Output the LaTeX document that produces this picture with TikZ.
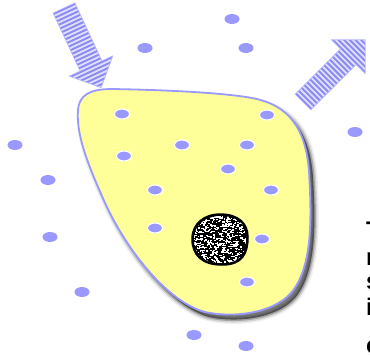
\documentclass[tikz,border=0pt]{standalone}
\usepackage{fontspec}
\setmainfont{Liberation Sans}
\begin{document}
\definecolor{dotblue}{HTML}{9999FF}
\definecolor{stripeblue}{HTML}{8C8CF2}
\definecolor{palestripe}{HTML}{E2E2FF}
\definecolor{cellyellow}{HTML}{FFFF99}
\tikzset{
  particle/.style={fill=dotblue, draw=none},
  inparticle/.style={fill=dotblue, draw=white, line width=1.1pt},
  membrane/.style={draw=dotblue, line width=1.8pt, fill=cellyellow},
  sidetext/.style={anchor=base west, inner sep=0pt, font=\fontsize{24}{24}\selectfont\bfseries}
}
% outline of the cell
\def\cellpath{(78,110) .. controls (79,95) and (90,89) .. (112,89)
  .. controls (170,90) and (225,93) .. (252,98)
  .. controls (290,105) and (306,130) .. (309,172)
  .. controls (312,222) and (312,268) .. (291,293)
  .. controls (272,314) and (232,318) .. (205,312)
  .. controls (168,302) and (128,252) .. (106,205)
  .. controls (88,165) and (76,135) .. (78,110) -- cycle}
% striped block arrow pointing along +x (local frame)
\newcommand{\stripedarrow}[2]{% #1 = shaft half width, #2 = scope options
  \begin{scope}[#2]
    \path[fill=palestripe] (0,-#1) -- (64,-#1) -- (64,-24) -- (88,0) -- (64,24) -- (64,#1) -- (0,#1) -- cycle;
    \begin{scope}
      \clip (0,-#1) -- (64,-#1) -- (64,-24) -- (88,0) -- (64,24) -- (64,#1) -- (0,#1) -- cycle;
      \foreach \s in {1,5,...,89} {
        \draw[stripeblue, line width=2pt] (\s,-26) -- (\s,26);
      }
    \end{scope}
    \draw[dotblue!70, line width=0.7pt, line join=round] (0,-#1) -- (64,-#1) -- (64,-24) -- (88,0) -- (64,24) -- (64,#1) -- (0,#1) -- cycle;
  \end{scope}}
\begin{tikzpicture}[x=1pt, y=-1pt]
  \useasboundingbox (0,0) rectangle (370,354);
  \clip (0,0) rectangle (370,354);
  \fill[white] (0,0) rectangle (370,354);

  % incoming and outgoing arrows
  \stripedarrow{12}{shift={(64,8)}, rotate=-65}
  \stripedarrow{11}{shift={(303,102)}, rotate=45}

  % particles outside the cell
  \foreach \n/\px/\py in {o1/232/19, o2/145/48, o3/246/48, o4/15/145, o5/48/180,
      o6/355/132, o7/50/237, o8/82/292, o9/194/335, o10/246/346} {
    \path[particle] (\px,\py) coordinate (\n) ellipse [x radius=7.5pt, y radius=5pt];
  }

  % soft drop shadow of the cell
  \begin{scope}[shift={(4,5)}]
    \draw[black, opacity=0.06, line width=9pt] \cellpath;
    \draw[black, opacity=0.12, line width=6pt] \cellpath;
    \draw[black, opacity=0.22, line width=3pt] \cellpath;
    \fill[black, opacity=0.5] \cellpath;
  \end{scope}

  % the cell
  \path[membrane] \cellpath;

  % particles inside the cell
  \foreach \n/\px/\py in {i1/122/114, i2/267/115, i3/182/145, i4/247/145, i5/124/156,
      i6/228/169, i7/155/190, i8/271/190, i9/155/228, i10/262/239, i11/247/282} {
    \path[inparticle] (\px,\py) coordinate (\n) ellipse [x radius=7.5pt, y radius=5pt];
  }

  % nucleus with speckled texture
  \def\nucpath{(192,239) .. controls (192,223) and (205,214) .. (220,214)
    .. controls (238,214) and (248,223) .. (248,237)
    .. controls (248,253) and (243,265) .. (222,265)
    .. controls (202,265) and (192,255) .. (192,239) -- cycle}
  \fill[black] \nucpath;
  \begin{scope}
    \clip (194,239) .. controls (194,225) and (206,216) .. (220,216)
      .. controls (237,216) and (246,224) .. (246,237)
      .. controls (246,252) and (242,263) .. (222,263)
      .. controls (203,263) and (194,254) .. (194,239) -- cycle;
    \pgfmathsetseed{4242}
    \foreach \k in {1,...,650} {
      \pgfmathsetmacro{\rx}{192+56*rnd}
      \pgfmathsetmacro{\ry}{214+51*rnd}
      \pgfmathsetmacro{\rw}{0.8+2*rnd}
      \fill[white] (\rx,\ry) rectangle ++(\rw,1.2);
    }
  \end{scope}
  \draw[black, line width=1.5pt] \nucpath;

  % text running off the right edge
  \node[sidetext] (t1) at (366,238) {T};
  \node[sidetext] (t2) at (366,265) {n};
  \node[sidetext] (t3) at (366,289) {s};
  \node[sidetext] (t4) at (366,315) {i};
  \node[sidetext] (t5) at (366,353) {c};
\end{tikzpicture}
\end{document}
